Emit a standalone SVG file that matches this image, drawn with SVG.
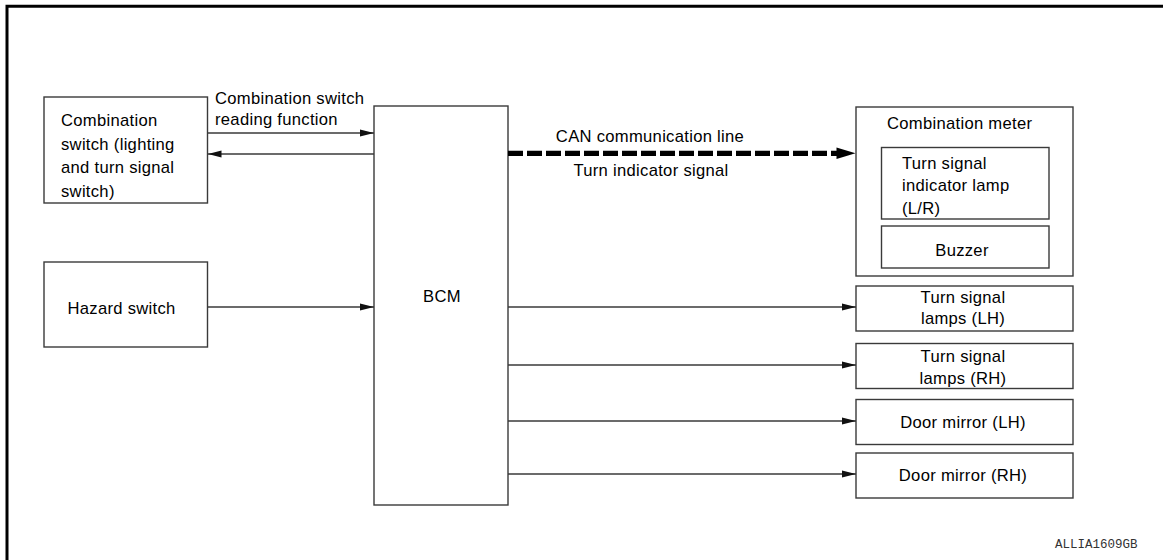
<svg xmlns="http://www.w3.org/2000/svg" width="1163" height="560" viewBox="0 0 1163 560">
  <style>
    .box { fill: #ffffff; stroke: #3a3a3a; stroke-width: 1.4; }
    .t { font-family: "Liberation Sans", Arial, sans-serif; font-size: 16.6px; letter-spacing: 0.3px; fill: #000; }
    .c { text-anchor: middle; }
    .wire { stroke: #3a3a3a; stroke-width: 1.3; fill: none; }
    .code { font-family: "Liberation Mono", "Courier New", monospace; font-size: 12.5px; fill: #333; }
  </style>
  <defs>
    <marker id="arr" viewBox="0 0 14 8" refX="14" refY="4" markerWidth="14" markerHeight="8" markerUnits="userSpaceOnUse" orient="auto">
      <path d="M0,0.6 L14,4 L0,7.4 z" fill="#111"/>
    </marker>
  </defs>
  <rect x="0" y="0" width="1163" height="560" fill="#ffffff"/>
  <path d="M7,560 V6.3 H1163" fill="none" stroke="#000" stroke-width="3"/>

  <g id="combination-switch">
    <rect class="box" x="44" y="97" width="163.5" height="106"/>
    <text class="t" x="61" y="126">Combination</text>
    <text class="t" x="61" y="149.5">switch (lighting</text>
    <text class="t" x="61" y="173">and turn signal</text>
    <text class="t" x="61" y="196.5">switch)</text>
  </g>

  <g id="hazard-switch">
    <rect class="box" x="44" y="262" width="163.5" height="85"/>
    <text class="t" x="67.5" y="314">Hazard switch</text>
  </g>

  <g id="bcm">
    <rect class="box" x="374" y="106" width="134" height="399"/>
    <text class="t c" x="442" y="302">BCM</text>
  </g>

  <g id="combination-meter">
    <rect class="box" x="856" y="107" width="217" height="169"/>
    <text class="t" x="887" y="129">Combination meter</text>
    <g id="turn-signal-indicator-lamp">
      <rect class="box" x="881.5" y="147.5" width="167.5" height="71.5"/>
      <text class="t" x="902" y="168.5">Turn signal</text>
      <text class="t" x="902" y="191">indicator lamp</text>
      <text class="t" x="902" y="213.5">(L/R)</text>
    </g>
    <g id="buzzer">
      <rect class="box" x="881.5" y="226" width="167.5" height="42"/>
      <text class="t c" x="962" y="256">Buzzer</text>
    </g>
  </g>

  <g id="turn-signal-lamps-lh">
    <rect class="box" x="856" y="286" width="217" height="45"/>
    <text class="t c" x="963" y="302.5">Turn signal</text>
    <text class="t c" x="963" y="324">lamps (LH)</text>
  </g>

  <g id="turn-signal-lamps-rh">
    <rect class="box" x="856" y="343.5" width="217" height="45"/>
    <text class="t c" x="963" y="362">Turn signal</text>
    <text class="t c" x="963" y="383.5">lamps (RH)</text>
  </g>

  <g id="door-mirror-lh">
    <rect class="box" x="856" y="399.5" width="217" height="45"/>
    <text class="t c" x="963" y="427.5">Door mirror (LH)</text>
  </g>

  <g id="door-mirror-rh">
    <rect class="box" x="856" y="453" width="217" height="45"/>
    <text class="t c" x="963" y="481">Door mirror (RH)</text>
  </g>

  <g id="connectors">
    <line class="wire" x1="207.5" y1="133" x2="374" y2="133" marker-end="url(#arr)"/>
    <line class="wire" x1="374" y1="154" x2="207.5" y2="154" marker-end="url(#arr)"/>
    <line class="wire" x1="207.5" y1="307" x2="374" y2="307" marker-end="url(#arr)"/>
    <line class="wire" x1="508" y1="307" x2="856" y2="307" marker-end="url(#arr)"/>
    <line class="wire" x1="508" y1="365" x2="856" y2="365" marker-end="url(#arr)"/>
    <line class="wire" x1="508" y1="421" x2="856" y2="421" marker-end="url(#arr)"/>
    <line class="wire" x1="508" y1="474" x2="856" y2="474" marker-end="url(#arr)"/>
    <g id="can-line">
      <line x1="508" y1="153.3" x2="838" y2="153.3" stroke="#000" stroke-width="5.3" stroke-dasharray="15 4"/>
      <polygon points="836.5,147.5 855.5,153.3 836.5,159.1" fill="#000"/>
    </g>
    <text class="t" x="215" y="104">Combination switch</text>
    <text class="t" x="215" y="125">reading function</text>
    <text class="t c" x="650" y="141.5">CAN communication line</text>
    <text class="t c" x="651" y="176">Turn indicator signal</text>
  </g>

  <text class="code" x="1055" y="548">ALLIA1609GB</text>
</svg>
